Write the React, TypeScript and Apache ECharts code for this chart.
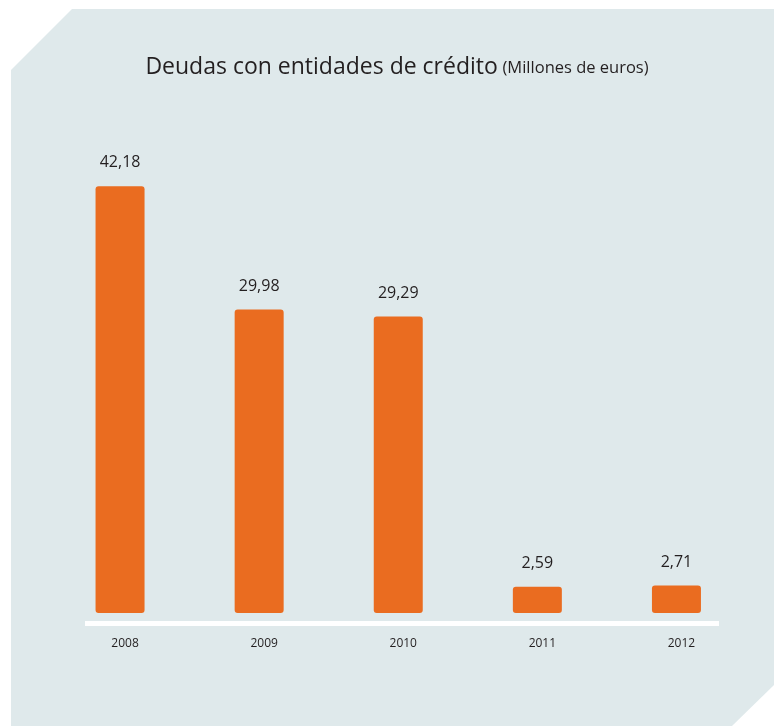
import React, { useEffect, useRef } from "react";
import * as echarts from "echarts";

const years = ["2008", "2009", "2010", "2011", "2012"];
const values = [42.18, 29.98, 29.29, 2.59, 2.71];
const titleMain = "Deudas con entidades de crédito";
const titleSub = "(Millones de euros)";

const FONT = "'Open Sans', 'Noto Sans', sans-serif";
const TEXT = "#231F20";
const ORANGE = "#EA6C20";
const BG = "#DFE9EB";

export default function App() {
  const ref = useRef<HTMLDivElement>(null);
  useEffect(() => {
    const chart = echarts.init(ref.current!, null, { renderer: "svg" });
    chart.setOption({
      animation: false,
      textStyle: { fontFamily: FONT },
      graphic: [
        {
          type: "polygon",
          z: -10,
          silent: true,
          shape: {
            points: [
              [11, 70],
              [72, 9],
              [774, 9],
              [774, 685],
              [732, 726],
              [11, 726],
            ],
          },
          style: { fill: BG },
        },
        {
          type: "rect",
          z: 10,
          silent: true,
          shape: { x: 85, y: 621, width: 634, height: 5 },
          style: { fill: "#FFFFFF" },
        },
      ],
      title: {
        left: 392,
        textAlign: "center",
        top: 42,
        text: "{a|" + titleMain + "} {b|" + titleSub + "}",
        textStyle: {
          fontWeight: "normal",
          rich: {
            a: { fontSize: 23, color: TEXT, fontFamily: FONT, fontWeight: "normal", verticalAlign: "bottom", lineHeight: 29 },
            b: { fontSize: 16.5, color: TEXT, fontFamily: FONT, fontWeight: "normal", verticalAlign: "bottom", lineHeight: 25, padding: [0, 0, 1, 0] },
          },
        },
      },
      grid: { left: 50.5, right: 28, top: 107, bottom: 113, containLabel: false },
      xAxis: {
        type: "category",
        data: years,
        axisLine: { show: false },
        axisTick: { show: false },
        axisLabel: {
          color: TEXT,
          fontSize: 12,
          fontFamily: FONT,
          margin: 23,
          padding: [0, 0, 0, 10],
        },
      },
      yAxis: {
        type: "value",
        min: 0,
        max: 50,
        show: false,
        splitLine: { show: false },
      },
      series: [
        {
          type: "bar",
          data: values,
          barWidth: 49,
          itemStyle: { color: ORANGE, borderRadius: 3 },
          label: {
            show: true,
            position: "top",
            distance: 17,
            color: TEXT,
            fontSize: 16,
            fontFamily: FONT,
            formatter: (p: any) => String(p.value).replace(".", ","),
          },
        },
      ],
    });
    return () => chart.dispose();
  }, []);
  return (
    <div
      ref={ref}
      style={{ position: "fixed", left: 0, top: 0, width: 774, height: 726 }}
    />
  );
}
